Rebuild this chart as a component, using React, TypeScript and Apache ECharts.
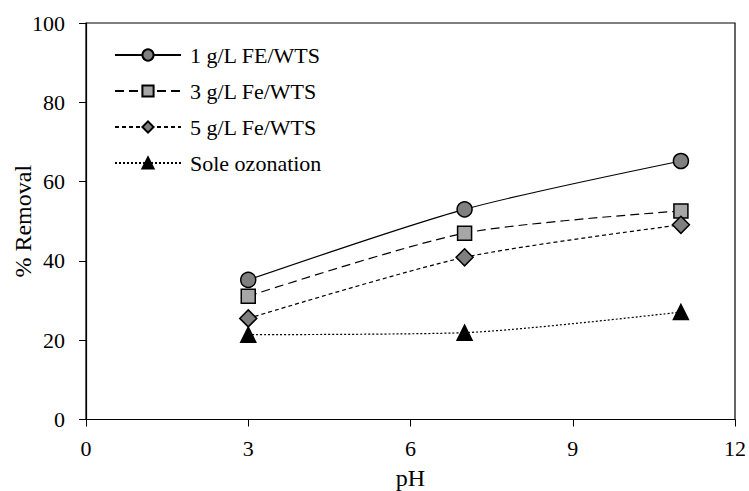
import React, { useEffect, useRef } from "react";
import * as echarts from "echarts";

const phValues = [3, 7, 11];
const fe1 = [35.2, 53.0, 65.2];
const fe3 = [31.1, 47.0, 52.6];
const fe5 = [25.5, 40.9, 49.1];
const sole = [21.4, 21.9, 27.1];
const seriesNames = ["1 g/L FE/WTS", "3 g/L Fe/WTS", "5 g/L Fe/WTS", "Sole ozonation"];

const FONT = "Liberation Serif";

export default function App() {
  const ref = useRef<HTMLDivElement>(null);
  useEffect(() => {
    if (!ref.current) return;
    const chart = echarts.init(ref.current, null, { renderer: "svg" });
    const pts = (ys: number[]) => phValues.map((x, i) => [x, ys[i]]);
    const mk = (
      name: string,
      ys: number[],
      symbol: string,
      size: number,
      fill: string,
      type: any,
      width: number
    ) => ({
      name,
      type: "line",
      data: pts(ys),
      smooth: 0.25,
      symbol,
      symbolSize: size,
      itemStyle: { color: fill, borderColor: "#000", borderWidth: 1.5 },
      lineStyle: { color: "#000", width, type },
      emphasis: { disabled: true },
    });
    chart.setOption({
      animation: false,
      backgroundColor: "#fff",
      grid: {
        left: 86,
        right: 14,
        top: 23,
        bottom: 71.5,
        containLabel: false,
        outerBoundsMode: "none",
        show: true,
        borderColor: "#000",
        borderWidth: 1.2,
        backgroundColor: "transparent",
      },
      legend: {
        orient: "vertical",
        left: 109,
        top: 39,
        itemWidth: 66,
        itemHeight: 14,
        itemGap: 14,
        textStyle: { fontFamily: FONT, fontSize: 22, color: "#000", padding: [0, 0, 0, 4] },
        data: seriesNames,
      },
      xAxis: {
        type: "value",
        min: 0,
        max: 12,
        interval: 3,
        name: "pH",
        nameLocation: "middle",
        nameGap: 46,
        nameMoveOverlap: false,
        nameTextStyle: { fontFamily: FONT, fontSize: 24, color: "#000" },
        axisLine: { onZero: false, lineStyle: { color: "#000", width: 1.2 } },
        axisTick: { show: true, inside: false, length: 7, lineStyle: { color: "#000" } },
        axisLabel: { fontFamily: FONT, fontSize: 22, color: "#000", margin: 18 },
        splitLine: { show: false },
      },
      yAxis: {
        type: "value",
        min: 0,
        max: 100,
        interval: 20,
        name: "% Removal",
        nameLocation: "middle",
        nameGap: 51,
        nameMoveOverlap: false,
        nameTextStyle: { fontFamily: FONT, fontSize: 24, color: "#000" },
        axisLine: { show: true, lineStyle: { color: "#000", width: 1.2 } },
        axisTick: { show: true, inside: false, length: 7, lineStyle: { color: "#000" } },
        axisLabel: { fontFamily: FONT, fontSize: 22, color: "#000", margin: 21 },
        splitLine: { show: false },
      },
      series: [
        mk(seriesNames[0], fe1, "circle", 15, "#808080", "solid", 1.2),
        mk(seriesNames[1], fe3, "rect", 14, "#a6a6a6", [9, 5], 1.2),
        mk(seriesNames[2], fe5, "diamond", 17, "#7f7f7f", [4, 3], 1.2),
        mk(seriesNames[3], sole, "triangle", 15, "#000", [2, 2], 1.2),
      ],
    });
    return () => chart.dispose();
  }, []);
  return <div ref={ref} style={{ width: 749, height: 491, position: "absolute", left: 0, top: 0 }} />;
}
